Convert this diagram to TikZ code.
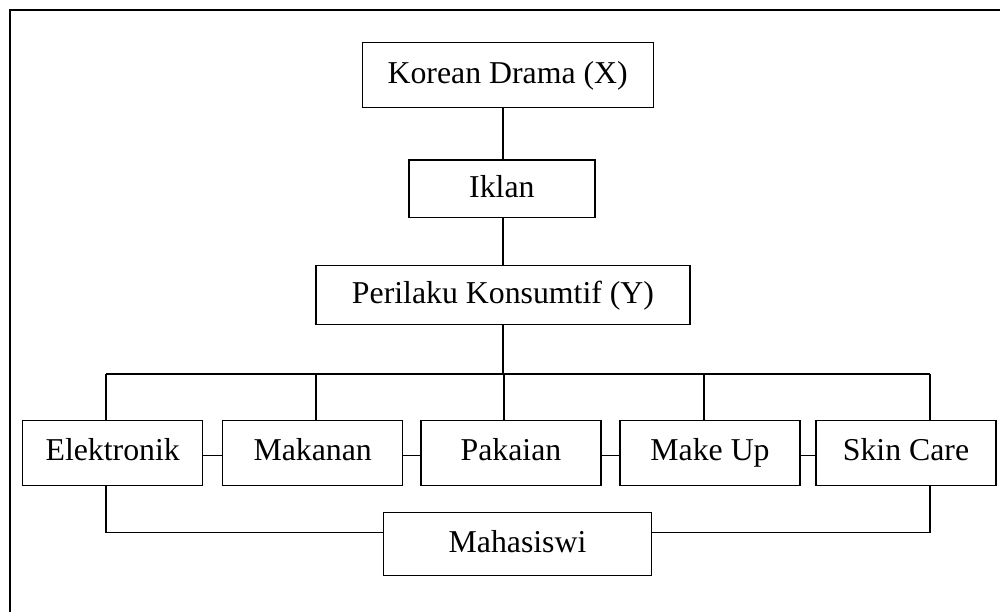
\documentclass[tikz,border=0pt]{standalone}
\usepackage{fontspec}
\setmainfont{Liberation Serif}
\begin{document}
\begin{tikzpicture}[x=1pt,y=-1pt,
  box/.style={draw, line width=1.3pt, inner sep=0pt, minimum height=65pt, text height=21pt, text depth=4.5pt, font=\fontsize{31.8}{36}\selectfont},
  conn/.style={line width=1.3pt},
  frame/.style={line width=2pt}]
\useasboundingbox (0,0) rectangle (1000,612);
\draw[frame] (10,612) -- (10,10) -- (1000,10);
\node[box, minimum width=291pt] (kd) at (507.7,74.8) {Korean Drama (X)};
\node[box, minimum width=186pt, minimum height=57.7pt] (ik) at (501.9,188.9) {Iklan};
\node[box, minimum width=374pt, minimum height=58.6pt] (pk) at (503,295) {Perilaku Konsumtif (Y)};
\node[box, minimum width=180pt] (el) at (112.7,452.7) {Elektronik};
\node[box, minimum width=180pt] (mk) at (312.7,452.7) {Makanan};
\node[box, minimum width=180pt] (pa) at (511,452.7) {Pakaian};
\node[box, minimum width=180pt] (mu) at (710,452.7) {Make Up};
\node[box, minimum width=180pt] (sc) at (906,452.7) {Skin Care};
\node[box, minimum width=268.4pt, minimum height=62.6pt] (ma) at (517.5,544) {Mahasiswi};
\coordinate (bus) at (503,374);
\coordinate (busL) at (106,374);
\coordinate (busR) at (930,374);
\coordinate (bl) at (106,532.7);
\coordinate (br) at (930,532.7);
\draw[conn] (kd.south -| bus) -- (ik.north -| bus);
\draw[conn] (ik.south -| bus) -- (pk.north -| bus);
\draw[conn] (pk.south -| bus) -- (bus);
\draw[conn] (busL) -- (busR);
\draw[conn] (busL) -- (el.north -| busL);
\draw[conn] (316,374) -- (mk.north -| 316,0);
\draw[conn] (504,374) -- (pa.north -| 504,0);
\draw[conn] (704,374) -- (mu.north -| 704,0);
\draw[conn] (busR) -- (sc.north -| busR);
\draw[conn] (el.east |- 0,455.7) -- (mk.west |- 0,455.7);
\draw[conn] (mk.east |- 0,455.7) -- (pa.west |- 0,455.7);
\draw[conn] (pa.east |- 0,455.7) -- (mu.west |- 0,455.7);
\draw[conn] (mu.east |- 0,455.7) -- (sc.west |- 0,455.7);
\draw[conn] (el.south -| bl) -- (bl) -- (ma.west |- bl);
\draw[conn] (sc.south -| br) -- (br) -- (ma.east |- br);
\end{tikzpicture}
\end{document}
